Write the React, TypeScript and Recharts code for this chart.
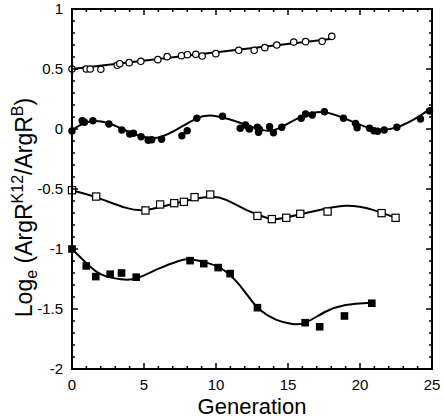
import React from 'react';
import { ComposedChart, Line, Scatter, XAxis, YAxis } from 'recharts';

// ---- data ----
const openCircleGen = [0, 0.99, 1.26, 2.0, 3.14, 3.32, 3.97, 4.78, 5.96, 6.61, 7.6, 8.02, 8.6, 9.04, 9.99, 11.58, 12.65, 13.39, 14.22, 15.4, 16.22, 17.37, 18.04];
const openCircleVal = [0.5, 0.5, 0.5, 0.498, 0.531, 0.544, 0.553, 0.564, 0.578, 0.603, 0.611, 0.619, 0.622, 0.608, 0.628, 0.656, 0.656, 0.678, 0.7, 0.725, 0.728, 0.731, 0.772];
const openCircleFitGen = [0, 18.1];
const openCircleFitVal = [0.5, 0.752];

const filledCircleGen = [0, 0.71, 0.87, 1.45, 2.56, 3.46, 4.01, 4.27, 4.8, 5.29, 5.54, 6.22, 7.63, 8.0, 8.67, 10.45, 11.68, 12.05, 12.28, 12.33, 12.88, 12.95, 13.02, 13.72, 13.99, 14.57, 15.92, 16.22, 16.68, 17.53, 18.85, 19.69, 19.8, 20.66, 20.96, 21.22, 21.68, 22.56, 24.2, 24.83];
const filledCircleVal = [-0.017, 0.069, 0.056, 0.069, 0.042, -0.008, -0.042, -0.036, -0.064, -0.094, -0.089, -0.086, -0.056, -0.014, 0.089, 0.106, 0.006, 0.033, 0.006, 0.0, 0.014, -0.028, -0.003, 0.019, -0.031, 0.014, 0.089, 0.125, 0.117, 0.144, 0.089, 0.047, 0.011, 0.006, -0.014, -0.019, -0.008, 0.014, 0.083, 0.15];
const filledCircleFitGen = [0, 0.7, 1.5, 2.5, 3.5, 4.5, 5.5, 6.2, 7.2, 8.6, 9.8, 11.4, 12.8, 13.7, 14.6, 16.0, 17.5, 19.0, 20.6, 21.6, 22.7, 24.1, 25];
const filledCircleFitVal = [-0.01, 0.04, 0.067, 0.05, 0.0, -0.05, -0.075, -0.065, -0.01, 0.085, 0.11, 0.063, 0.005, -0.015, 0.02, 0.105, 0.14, 0.085, 0.01, -0.006, 0.02, 0.105, 0.18];

const openSquareGen = [0, 1.68, 5.1, 6.12, 7.1, 7.77, 8.51, 9.6, 12.88, 13.88, 14.88, 15.85, 17.75, 21.5, 22.47];
const openSquareVal = [-0.51, -0.563, -0.679, -0.629, -0.618, -0.607, -0.568, -0.546, -0.724, -0.751, -0.74, -0.707, -0.688, -0.701, -0.74];
const openSquareFitGen = [0, 1.7, 3.7, 5.1, 6.5, 8, 9.6, 10.7, 12.1, 13.5, 14.5, 16.7, 19.0, 20.9, 22.47];
const openSquareFitVal = [-0.51, -0.57, -0.655, -0.675, -0.64, -0.595, -0.565, -0.59, -0.674, -0.74, -0.745, -0.688, -0.64, -0.674, -0.74];

const filledSquareGen = [0, 0.99, 1.65, 2.65, 3.44, 4.46, 8.2, 9.15, 10.15, 10.98, 12.88, 16.19, 17.2, 18.92, 20.82];
const filledSquareVal = [-1.0, -1.141, -1.23, -1.21, -1.2, -1.235, -1.097, -1.122, -1.155, -1.205, -1.489, -1.614, -1.648, -1.558, -1.452];
const filledSquareFitGen = [0, 1.0, 2.1, 3.4, 4.5, 6.1, 7.5, 8.2, 9.5, 10.7, 11.9, 12.9, 14.2, 15.3, 16.2, 17.6, 19.0, 20.8];
const filledSquareFitVal = [-1.0, -1.118, -1.216, -1.252, -1.244, -1.16, -1.097, -1.086, -1.12, -1.19, -1.34, -1.49, -1.59, -1.625, -1.614, -1.523, -1.466, -1.447];

const X_MIN = 0;
const X_MAX = 25;
const Y_MIN = -2;
const Y_MAX = 1;
const xMajorTicks = [0, 5, 10, 15, 20, 25];
const xTicks = Array.from({ length: 26 }, (_, i) => i);
const yMajorTicks = [-2, -1.5, -1, -0.5, 0, 0.5, 1];
const yTicks = Array.from({ length: 31 }, (_, i) => Math.round((-2 + i * 0.1) * 10) / 10);

const zip = (xs: number[], ys: number[]) => xs.map((x, i) => ({ x, y: ys[i] }));

const openCircles = zip(openCircleGen, openCircleVal);
const openCircleFit = zip(openCircleFitGen, openCircleFitVal);
const filledCircles = zip(filledCircleGen, filledCircleVal);
const filledCircleFit = zip(filledCircleFitGen, filledCircleFitVal);
const openSquares = zip(openSquareGen, openSquareVal);
const openSquareFit = zip(openSquareFitGen, openSquareFitVal);
const filledSquares = zip(filledSquareGen, filledSquareVal);
const filledSquareFit = zip(filledSquareFitGen, filledSquareFitVal);

// layout
const W = 444;
const H = 419;
const MARGIN = { top: 9, right: 12, left: 0, bottom: 0 };
const Y_AXIS_W = 72;
const X_AXIS_H = 50;
const PLOT_L = MARGIN.left + Y_AXIS_W;
const PLOT_T = MARGIN.top;
const PLOT_W = W - PLOT_L - MARGIN.right;
const PLOT_H = H - PLOT_T - MARGIN.bottom - X_AXIS_H;

const FONT = '"Liberation Sans", Arial, Helvetica, sans-serif';
const isMajorX = (v: number) => xMajorTicks.includes(v);
const isMajorY = (v: number) => yMajorTicks.some((t) => Math.abs(t - v) < 1e-6);
const fx = (v: number) => PLOT_L + ((v - X_MIN) / (X_MAX - X_MIN)) * PLOT_W;
const fy = (v: number) => PLOT_T + ((Y_MAX - v) / (Y_MAX - Y_MIN)) * PLOT_H;

const BottomLabel = (props: any) => {
  const { x, y, payload } = props;
  if (!isMajorX(payload.value)) return <g />;
  return (
    <text x={x} y={y + 21} textAnchor="middle" fontSize={15} fill="#000">
      {payload.value}
    </text>
  );
};

const LeftLabel = (props: any) => {
  const { x, y, payload } = props;
  if (!isMajorY(payload.value)) return <g />;
  return (
    <text x={x - 9} y={y} dy="0.36em" textAnchor="end" fontSize={15} fill="#000">
      {payload.value}
    </text>
  );
};

const OpenCircle = (p: any) => <circle cx={p.cx} cy={p.cy} r={3.2} fill="#fff" stroke="#000" strokeWidth={1.2} />;
const FilledCircle = (p: any) => <circle cx={p.cx} cy={p.cy} r={3.7} fill="#000" />;
const OpenSquare = (p: any) => <rect x={p.cx - 3.6} y={p.cy - 3.6} width={7.2} height={7.2} fill="#fff" stroke="#000" strokeWidth={1.2} />;
const FilledSquare = (p: any) => <rect x={p.cx - 3.8} y={p.cy - 3.8} width={7.6} height={7.6} fill="#000" />;

const FrameOverlay = () => (
  <svg width={W} height={H} style={{ position: 'absolute', left: 0, top: 0, pointerEvents: 'none' }}>
    <rect x={PLOT_L} y={PLOT_T} width={PLOT_W} height={PLOT_H} fill="none" stroke="#000" strokeWidth={2} />
    {xTicks.map((t) => {
      const len = isMajorX(t) ? 6 : 3;
      return (
        <g key={`x${t}`}>
          <line x1={fx(t)} y1={PLOT_T + PLOT_H} x2={fx(t)} y2={PLOT_T + PLOT_H - len} stroke="#000" strokeWidth={1.5} />
          <line x1={fx(t)} y1={PLOT_T} x2={fx(t)} y2={PLOT_T + len} stroke="#000" strokeWidth={1.5} />
        </g>
      );
    })}
    {yTicks.map((t) => {
      const len = isMajorY(t) ? 6 : 3;
      return (
        <g key={`y${t}`}>
          <line x1={PLOT_L} y1={fy(t)} x2={PLOT_L + len} y2={fy(t)} stroke="#000" strokeWidth={1.5} />
          <line x1={PLOT_L + PLOT_W} y1={fy(t)} x2={PLOT_L + PLOT_W - len} y2={fy(t)} stroke="#000" strokeWidth={1.5} />
        </g>
      );
    })}
  </svg>
);

const small = { fontSize: 16, position: 'relative' as const };

export default function App() {
  return (
    <div style={{ position: 'absolute', left: 0, top: 0, width: W, height: H, background: '#fff', fontFamily: FONT, color: '#000' }}>
      <ComposedChart width={W} height={H} margin={MARGIN}>
        <XAxis xAxisId="b" type="number" dataKey="x" domain={[X_MIN, X_MAX]} ticks={xTicks} interval={0} height={X_AXIS_H}
          tickSize={0} tickMargin={0} tickLine={false} axisLine={false} tick={<BottomLabel />} />
        <YAxis yAxisId="l" type="number" dataKey="y" domain={[Y_MIN, Y_MAX]} ticks={yTicks} interval={0} width={Y_AXIS_W}
          tickSize={0} tickMargin={0} tickLine={false} axisLine={false} tick={<LeftLabel />} />

        <Line xAxisId="b" yAxisId="l" data={openCircleFit} dataKey="y" type="linear" stroke="#000" strokeWidth={2} dot={false} isAnimationActive={false} />
        <Line xAxisId="b" yAxisId="l" data={filledCircleFit} dataKey="y" type="natural" stroke="#000" strokeWidth={2} dot={false} isAnimationActive={false} />
        <Line xAxisId="b" yAxisId="l" data={openSquareFit} dataKey="y" type="natural" stroke="#000" strokeWidth={2} dot={false} isAnimationActive={false} />
        <Line xAxisId="b" yAxisId="l" data={filledSquareFit} dataKey="y" type="natural" stroke="#000" strokeWidth={2} dot={false} isAnimationActive={false} />

        <Scatter xAxisId="b" yAxisId="l" data={openCircles} dataKey="y" shape={<OpenCircle />} isAnimationActive={false} />
        <Scatter xAxisId="b" yAxisId="l" data={filledCircles} dataKey="y" shape={<FilledCircle />} isAnimationActive={false} />
        <Scatter xAxisId="b" yAxisId="l" data={openSquares} dataKey="y" shape={<OpenSquare />} isAnimationActive={false} />
        <Scatter xAxisId="b" yAxisId="l" data={filledSquares} dataKey="y" shape={<FilledSquare />} isAnimationActive={false} />
      </ComposedChart>

      <FrameOverlay />

      <div style={{ position: 'absolute', left: 152, top: 396, width: 200, height: 22, lineHeight: '22px', fontSize: 22, textAlign: 'center', whiteSpace: 'nowrap' }}>
        Generation
      </div>
      <div style={{ position: 'absolute', left: -126, top: 195.5, width: 300, height: 23, lineHeight: '23px', fontSize: 23, textAlign: 'center', whiteSpace: 'nowrap', transform: 'rotate(-90deg)' }}>
        Log<span style={{ ...small, top: 5 }}>e</span> (ArgR<span style={{ ...small, top: -9 }}>K12</span>/ArgR<span style={{ ...small, top: -9 }}>B</span>)
      </div>
    </div>
  );
}
